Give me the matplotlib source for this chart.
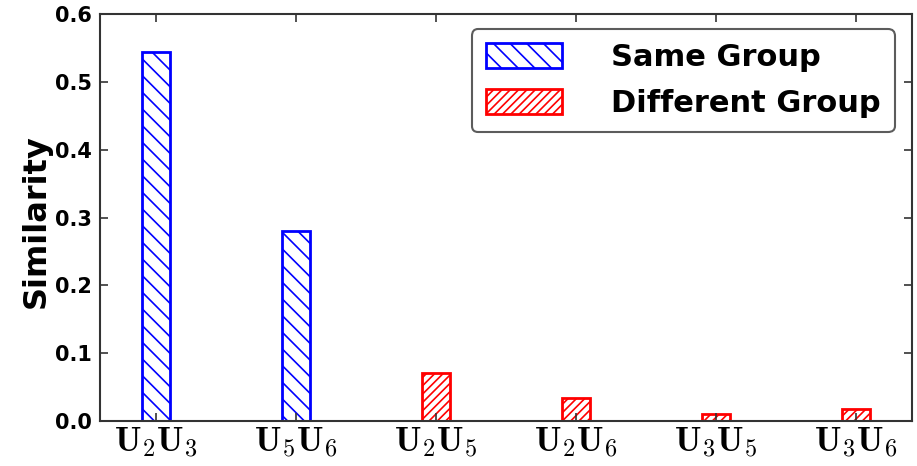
import matplotlib
matplotlib.use("Agg")
import matplotlib.pyplot as plt
import numpy as np

plt.rcParams["mathtext.fontset"] = "cm"
plt.rcParams["hatch.linewidth"] = 1.2

categories = [r"$\mathbf{U}_2\mathbf{U}_3$", r"$\mathbf{U}_5\mathbf{U}_6$",
              r"$\mathbf{U}_2\mathbf{U}_5$", r"$\mathbf{U}_2\mathbf{U}_6$",
              r"$\mathbf{U}_3\mathbf{U}_5$", r"$\mathbf{U}_3\mathbf{U}_6$"]
same_group = [0.544, 0.280]
diff_group = [0.071, 0.034, 0.010, 0.018]
yticks = [0.0, 0.1, 0.2, 0.3, 0.4, 0.5, 0.6]

fig = plt.figure(figsize=(9.17, 4.66), dpi=100)
ax = fig.add_axes([100 / 917, 1 - 421 / 466, 812 / 917, 407 / 466])

x = np.arange(len(categories))
ax.bar(x[:2], same_group, width=0.2, facecolor="white", edgecolor="blue",
       linewidth=2, hatch="\\\\", label="Same Group")
ax.bar(x[2:], diff_group, width=0.2, facecolor="white", edgecolor="red",
       linewidth=2, hatch="////", label="Different Group")

ax.set_xlim(-0.4, 5.4)
ax.set_ylim(0, 0.6)
ax.set_xticks(x)
ax.set_xticklabels(categories, fontsize=25)
ax.set_yticks(yticks)
ax.set_yticklabels([f"{v:.1f}" for v in yticks], fontsize=15, fontweight="bold")
ax.tick_params(direction="in", top=True, right=True, length=6, width=1.2,
               color="#333333")
ax.tick_params(axis="x", pad=3)
ax.tick_params(axis="y", pad=6)
for s in ax.spines.values():
    s.set_linewidth(1.5)
    s.set_color("#333333")

ax.set_ylabel("Similarity", fontsize=23, fontweight="bold")
ax.yaxis.set_label_coords(-0.06, 0.49)

leg = ax.legend(loc="upper right", bbox_to_anchor=(0.9785, 0.962),
                prop={"size": 22, "weight": "bold"}, handlelength=2.5,
                handleheight=0.85, borderpad=0.45, labelspacing=0.55,
                handletextpad=1.6, borderaxespad=0, fancybox=True)
leg.get_frame().set_edgecolor("#333333")
leg.get_frame().set_linewidth(1.5)

fig.savefig("out.png", dpi=100)
